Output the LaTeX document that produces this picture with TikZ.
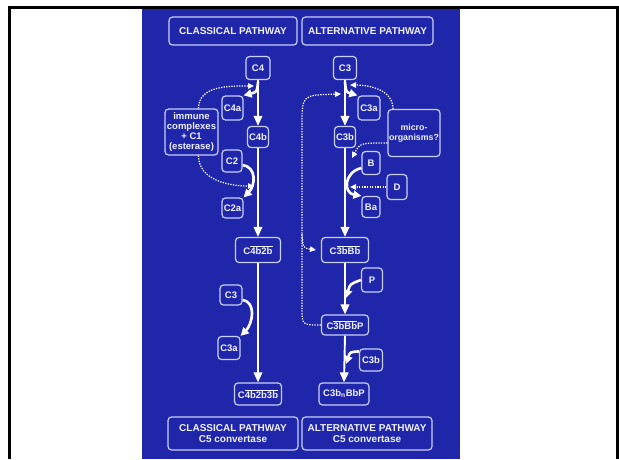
\documentclass[tikz,border=0pt]{standalone}
\usepackage{fontspec}
\setmainfont{Liberation Sans}
\usetikzlibrary{arrows.meta}
\definecolor{bgblue}{RGB}{32,38,170}
\definecolor{edgec}{RGB}{200,208,245}
\definecolor{txtc}{RGB}{240,242,255}
\newcommand{\ovl}[1]{$\overline{\mbox{#1}}$}
\begin{document}
\begin{tikzpicture}[x=1pt,y=-1pt,
  box/.style={draw=edgec, line width=1.2pt, rounded corners=3.5pt, text=txtc,
    font=\bfseries\fontsize{9.5}{10.2}\selectfont, inner sep=0pt, align=center},
  headbox/.style={box, font=\bfseries\fontsize{10}{11}\selectfont},
  mainarr/.style={draw=white, line width=1.9pt, -{Triangle[length=10pt,width=8.5pt]}},
  scoop/.style={draw=white, line width=2.6pt, -{Triangle[length=8pt,width=8pt]}},
  dotarr/.style={draw=white, line width=1.2pt, dash pattern=on 1.3pt off 1.3pt, -{Triangle[length=6pt,width=5.5pt]}},
]
\useasboundingbox (0,0) rectangle (619,459);
\fill[bgblue] (142,8) rectangle (460,459);
\draw[line width=2.6pt, black] (9.3,459) -- (9.3,7.3) -- (617.5,7.3) -- (617.5,459);

% headers
\node[headbox, minimum width=128pt, minimum height=28pt] (hc) at (233,31) {CLASSICAL PATHWAY};
\node[headbox, minimum width=131pt, minimum height=28pt] (ha) at (367.5,31) {ALTERNATIVE PATHWAY};

% classical
\node[box, minimum width=24pt, minimum height=23pt] (c4) at (258,68) {C4};
\node[box, minimum width=21pt, minimum height=24pt] (c4a) at (232.5,108) {C4a};
\node[box, minimum width=21pt, minimum height=21pt] (c4b) at (258,137) {C4b};
\node[box, minimum width=53pt, minimum height=46pt] (imm) at (191.5,132) {immune\\complexes\\+ C1\\(esterase)};
\node[box, minimum width=20pt, minimum height=22pt] (c2) at (232,161) {C2};
\node[box, minimum width=21pt, minimum height=20pt] (c2a) at (232.5,208) {C2a};
\node[box, minimum width=45pt, minimum height=25pt] (c4b2b) at (258,250) {C\ovl{4b2b}};
\node[box, minimum width=22pt, minimum height=20pt] (c3cl) at (231,295) {C3};
\node[box, minimum width=22pt, minimum height=23pt] (c3acl) at (229,348) {C3a};
\node[box, minimum width=47pt, minimum height=22pt] (c4b2b3b) at (258,394) {C\ovl{4b2b3b}};

% alternative
\node[box, minimum width=23pt, minimum height=23pt] (c3top) at (345,68) {C3};
\node[box, minimum width=22pt, minimum height=24pt] (c3a) at (369,108) {C3a};
\node[box, minimum width=21pt, minimum height=21pt] (c3b) at (345,137) {C3b};
\node[box, minimum width=52pt, minimum height=47pt, font=\bfseries\fontsize{8.8}{10.2}\selectfont] (micro) at (414,133) {micro-\\organisms?};
\node[box, minimum width=18pt, minimum height=23pt] (bb) at (371,163) {B};
\node[box, minimum width=20pt, minimum height=25pt] (dd) at (397,187) {D};
\node[box, minimum width=18pt, minimum height=21pt] (ba) at (371,207) {Ba};
\node[box, minimum width=47pt, minimum height=25pt] (c3bbb) at (345,250) {C\ovl{3bBb}};
\node[box, minimum width=21pt, minimum height=24pt] (pp) at (372,280) {P};
\node[box, minimum width=47pt, minimum height=20pt] (c3bbbp) at (345,325) {C\ovl{3bBb}P};
\node[box, minimum width=23pt, minimum height=22pt] (c3blow) at (371,360) {C3b};
\node[box, minimum width=50pt, minimum height=22pt] (c3bnbbp) at (344,394) {C3b\textsubscript{n}BbP};

% footers
\node[headbox, minimum width=130pt, minimum height=33pt] (fc) at (233,433.5) {CLASSICAL PATHWAY\\C5 convertase};
\node[headbox, minimum width=130pt, minimum height=33pt] (fa) at (367,433.5) {ALTERNATIVE PATHWAY\\C5 convertase};

% junction coordinates
\coordinate (jc1) at (254,86);
\coordinate (jc2) at (254,186);
\coordinate (sc4a) at (258,82);
\coordinate (ja1) at (350,85);
\coordinate (ja2) at (341,94);
\coordinate (sc3a) at (345,82);
\coordinate (jb) at (352,158);
\coordinate (jd) at (350,187);
\coordinate (jp) at (346,298);
\coordinate (j3b) at (346,364);
\coordinate (lp1) at (302,308);
\coordinate (lp2) at (302,125);
\coordinate (lp3) at (302,234);
\coordinate (ebbb) at (316,250);

% classical main line
\draw[mainarr] (c4.south) -- (c4b.north);
\draw[mainarr] (c4b.south) -- (c4b2b.north);
\draw[mainarr] (c4b2b.south) -- (c4b2b3b.north);

% classical side arrows
\draw[scoop] (sc4a) .. controls (257,92) .. (c4a.north east);
\draw[dotarr] ([xshift=7pt]imm.north) to[out=90,in=180] (jc1);
\draw[dotarr] ([xshift=7pt]imm.south) to[out=-90,in=180] (jc2);
\draw[scoop] ([yshift=-4pt]c2.east) .. controls +(14,2) and +(12,-12) .. (c2a.north east);
\draw[scoop] ([yshift=-5pt]c3cl.east) .. controls +(14,2) and +(12,-12) .. (c3acl.north east);

% alternative main line
\draw[mainarr] (c3top.south) -- (c3b.north);
\draw[mainarr] (c3b.south) -- (c3bbb.north);
\draw[mainarr] (c3bbb.south) -- (c3bbbp.north);
\draw[mainarr] (c3bbbp.south) -- (c3bnbbp.north);

% alternative side arrows
\draw[scoop] (sc3a) .. controls (346,92) .. (c3a.north west);
\draw[dotarr] ([xshift=-21pt]micro.north) to[out=90,in=0] (ja1);
\draw[dotarr] (c3bbbp.west) .. controls (302,325) .. (lp1) -- (lp2) .. controls (302,95) .. (ja2);
\draw[dotarr] (lp3) .. controls (303,248) .. (ebbb);
\draw[dotarr] ([yshift=-10pt]micro.west) .. controls (360,143) .. (jb);
\draw[scoop] ([yshift=-5pt]bb.west) .. controls (344,172) and (343,193) .. (ba.north west);
\draw[dotarr] (dd.west) -- (jd);
\draw[scoop] (pp.west) .. controls (350,284) .. (jp);
\draw[scoop] ([yshift=-3pt]c3blow.north west) .. controls (350,352) .. (j3b);
\end{tikzpicture}
\end{document}
